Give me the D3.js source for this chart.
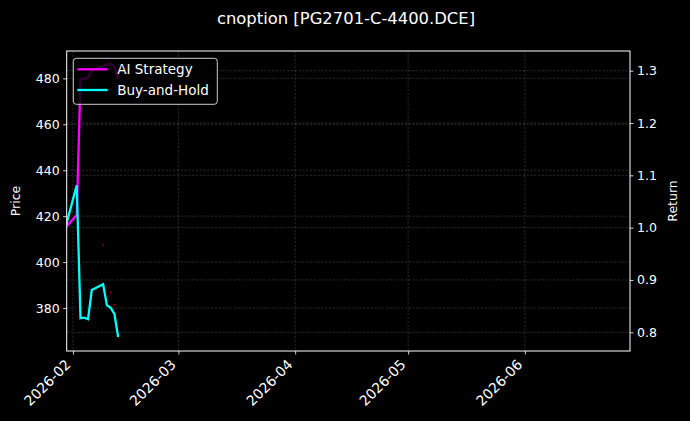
<!DOCTYPE html>
<html>
<head>
<meta charset="utf-8">
<script src="https://cdn.jsdelivr.net/npm/d3@7"></script>
<style>
  html, body { margin: 0; padding: 0; background: #000; }
  svg { display: block; }
  text { font-family: "DejaVu Sans", sans-serif; fill: #fff; }
</style>
</head>
<body>
<svg id="chart" width="690" height="421"></svg>
<script>
// ---------- data ----------
const title = "cnoption [PG2701-C-4400.DCE]";
const dates = ["2026-01-30","2026-02-02","2026-02-03","2026-02-04","2026-02-05","2026-02-06",
               "2026-02-09","2026-02-10","2026-02-11","2026-02-12","2026-02-13"];
const aiStrategy = [1.000, 1.024, 1.285, 1.285, 1.286, 1.301, 1.309, 1.312, 1.313, 1.307, 1.284];
const buyAndHold = [1.000, 1.081, 0.827, 0.828, 0.825, 0.881, 0.892, 0.852, 0.847, 0.835, 0.791];
const tradeDates = ["2026-02-09","2026-02-11","2026-02-12"];
const tradePrices = [407.6, 386.8, 381.3];
const priceTicks = [380, 400, 420, 440, 460, 480];
const returnTicks = [0.8, 0.9, 1.0, 1.1, 1.2, 1.3];
const monthTicks = ["2026-02-01","2026-03-01","2026-04-01","2026-05-01","2026-06-01"];
const xDomain = ["2026-01-30T08:00:00Z", "2026-06-28T22:00:00Z"];
const priceDomain = [361.3, 491.9];
const returnDomain = [0.76426, 1.33765];
const seriesNames = ["AI Strategy", "Buy-and-Hold"];
const seriesColors = ["#ff00ff", "#00ffff"];

// ---------- layout ----------
const svg = d3.select("#chart");
const L = 66.7, R = 630, T = 51, B = 351;
const parse = s => new Date(s.length > 10 ? s : s + "T00:00:00Z");

const x = d3.scaleUtc().domain(xDomain.map(parse)).range([L, R]);
const yP = d3.scaleLinear().domain(priceDomain).range([B, T]);
const yR = d3.scaleLinear().domain(returnDomain).range([B, T]);

svg.append("rect").attr("width", 690).attr("height", 421).attr("fill", "#000");

svg.append("defs").append("clipPath").attr("id", "clip")
  .append("rect").attr("x", L).attr("y", T).attr("width", R - L).attr("height", B - T);

// grid
const grid = svg.append("g").attr("stroke", "#ffffff").attr("stroke-opacity", 0.28)
  .attr("stroke-width", 0.6).attr("stroke-dasharray", "2.2,1.6");
grid.selectAll(".gp").data(priceTicks).join("line")
  .attr("x1", L).attr("x2", R).attr("y1", d => yP(d)).attr("y2", d => yP(d));
grid.selectAll(".gr").data(returnTicks).join("line")
  .attr("x1", L).attr("x2", R).attr("y1", d => yR(d)).attr("y2", d => yR(d));
grid.selectAll(".gx").data(monthTicks.map(parse)).join("line")
  .attr("x1", d => x(d)).attr("x2", d => x(d)).attr("y1", T).attr("y2", B);

// lines
const plot = svg.append("g").attr("clip-path", "url(#clip)");
const series = [aiStrategy, buyAndHold];
const line = d3.line().x(d => x(d[0])).y(d => yR(d[1]));
series.forEach((vals, i) => {
  const pts = dates.map((d, j) => [parse(d), vals[j]]);
  plot.append("path").datum(pts).attr("d", line)
    .attr("fill", "none").attr("stroke", seriesColors[i]).attr("stroke-width", 2.3)
    .attr("stroke-linejoin", "miter").attr("stroke-linecap", "butt");
});

// trade markers
plot.selectAll(".tm").data(tradeDates.map((d, i) => [parse(d), tradePrices[i]])).join("circle")
  .attr("cx", d => x(d[0])).attr("cy", d => yP(d[1])).attr("r", 1.1).attr("fill", "#8b0000");

// axes
const axL = svg.append("g").attr("transform", `translate(${L},0)`)
  .call(d3.axisLeft(yP).tickValues(priceTicks).tickSize(3.5).tickPadding(3.5).tickFormat(d3.format("d")));
const axR = svg.append("g").attr("transform", `translate(${R},0)`)
  .call(d3.axisRight(yR).tickValues(returnTicks).tickSize(3.5).tickPadding(3.5).tickFormat(d3.format(".1f")));
const axB = svg.append("g").attr("transform", `translate(0,${B})`)
  .call(d3.axisBottom(x).tickValues(monthTicks.map(parse)).tickSize(3.5).tickFormat(d3.utcFormat("%Y-%m")));
[axL, axR, axB].forEach(a => {
  a.select(".domain").remove();
  a.selectAll(".tick line").attr("stroke", "#fff").attr("stroke-width", 0.8);
  a.selectAll(".tick text").attr("fill", "#fff").style("font-size", "12.5px")
    .style("font-family", '"DejaVu Sans", sans-serif');
});
axB.selectAll(".tick text")
  .style("font-size", "14px")
  .attr("text-anchor", "end").attr("dy", null).attr("y", null)
  .attr("transform", "translate(-2,14.5) rotate(-45)");

// legend (drawn above lines)
const lg = svg.append("g");
lg.append("rect").attr("x", 73.3).attr("y", 58.3).attr("width", 144).attr("height", 46)
  .attr("rx", 3).attr("fill", "#000").attr("fill-opacity", 0.8)
  .attr("stroke", "#ffffff").attr("stroke-opacity", 0.8).attr("stroke-width", 1);
seriesNames.forEach((n, i) => {
  const yy = 69.3 + i * 20.7;
  lg.append("line").attr("x1", 77.3).attr("x2", 107.7).attr("y1", yy).attr("y2", yy)
    .attr("stroke", seriesColors[i]).attr("stroke-width", 2.3);
  lg.append("text").attr("x", 117.3).attr("y", yy).attr("dy", "0.36em")
    .style("font-size", "13.5px").text(n);
});

// spines
svg.append("rect").attr("x", L).attr("y", T).attr("width", R - L).attr("height", B - T)
  .attr("fill", "none").attr("stroke", "#fff").attr("stroke-width", 1);

// labels
svg.append("text").attr("x", 346).attr("y", 24).attr("text-anchor", "middle")
  .style("font-size", "16.4px").text(title);
svg.append("text").attr("transform", `translate(20,${(T + B) / 2}) rotate(-90)`)
  .attr("text-anchor", "middle").style("font-size", "12.5px").text("Price");
svg.append("text").attr("transform", `translate(677,${(T + B) / 2}) rotate(-90)`)
  .attr("text-anchor", "middle").style("font-size", "12.5px").text("Return");
</script>
</body>
</html>
